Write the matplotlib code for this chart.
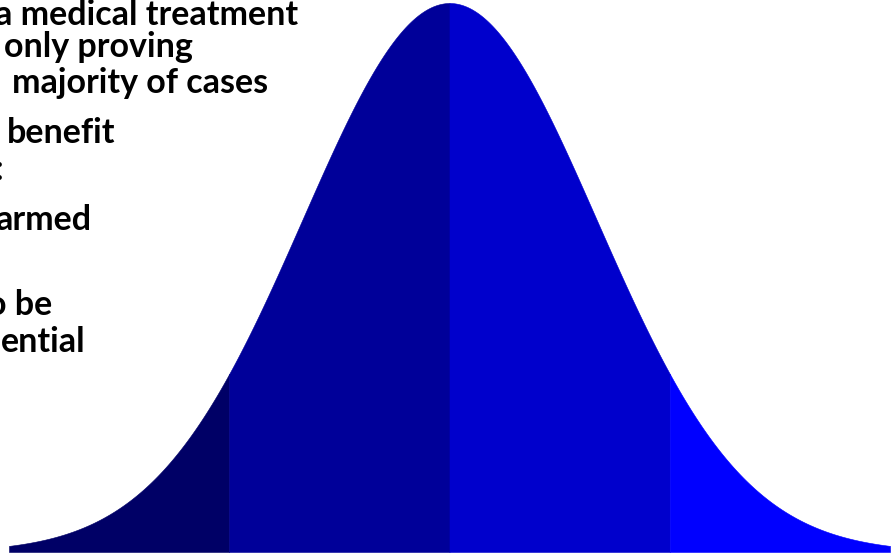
import numpy as np
import matplotlib.pyplot as plt

# normal curve (in sd units) split into four shaded bands
mean, sd = 0.0, 1.0
band_edges = [-3, -1.5, 0, 1.5, 3]
band_colors = ['#000066', '#000099', '#0000CC', '#0000FF']

# visible (clipped) text lines: text, right end x px, baseline y px
text_lines = ['a medical treatment', 'only proving', 'majority of cases',
              'benefit', ':', 'armed', 'o be', 'ential']
text_right = [298, 193, 268, 115, 3, 91, 52, 86]
text_base = [25, 57, 93, 143, 180, 230, 315, 352]

W, H = 896, 554
fig = plt.figure(figsize=(W / 100, H / 100), dpi=100)
ax = fig.add_axes([0, 2 / H, 1, 552 / H])

for lo, hi, c in zip(band_edges[:-1], band_edges[1:], band_colors):
    x = np.linspace(lo, hi, 300)
    y = np.exp(-0.5 * ((x - mean) / sd) ** 2) / (sd * np.sqrt(2 * np.pi))
    ax.fill_between(x, 0, y, color=c, lw=0.4, edgecolor=c)

ax.set_xlim(-3.0613, 3.0409)
ax.set_ylim(0, 0.40112)
ax.axis('off')

for s, xr, yb in zip(text_lines, text_right, text_base):
    fig.text(xr / W, 1 - yb / H, s, ha='right', va='baseline',
             fontsize=24.5, fontweight='bold', family='Lato', color='black')

fig.savefig('out.png', dpi=100, facecolor='white')
